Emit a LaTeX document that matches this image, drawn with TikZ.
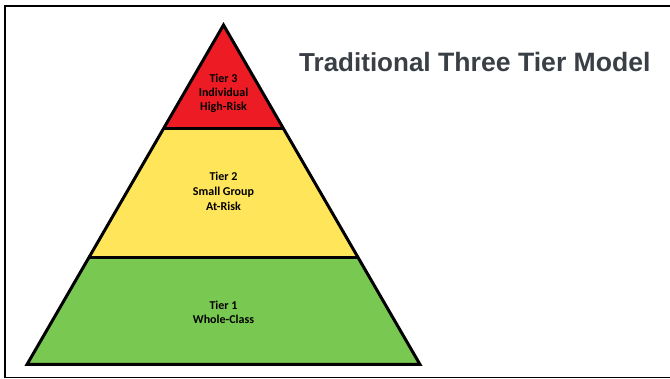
\documentclass[tikz,border=0pt]{standalone}
\usepackage{fontspec}
\setmainfont{Carlito}
\newfontfamily\titlefont{Liberation Sans}
\usetikzlibrary{calc}
\definecolor{tierred}{HTML}{ED1C24}
\definecolor{tieryellow}{HTML}{FFE55A}
\definecolor{tiergreen}{HTML}{79C852}
\definecolor{titlegray}{HTML}{3A3F45}
\tikzset{
  tieredge/.style={draw=black, line width=3pt, line join=miter},
  tierlabel/.style={font=\fontsize{12}{14.3}\selectfont\bfseries, align=center, text=black, inner sep=0pt},
  frameline/.style={draw=black, line width=1.8pt}
}
\begin{document}
\begin{tikzpicture}[x=1pt, y=-1pt]
\useasboundingbox (0,0) rectangle (670,379);
% frame
\draw[frameline] (670,5.7) -- (5.2,5.7) -- (5.2,377.6) -- (670,377.6);
% pyramid geometry
\coordinate (apex) at (223.5,25);
\coordinate (bl) at (27,364.5);
\coordinate (br) at (420,364.5);
\coordinate (l1) at ($(apex)!0.3034!(bl)$);
\coordinate (r1) at ($(apex)!0.3034!(br)$);
\coordinate (l2) at ($(apex)!0.6834!(bl)$);
\coordinate (r2) at ($(apex)!0.6834!(br)$);
\fill[tierred] (apex) -- (l1) -- (r1) -- cycle;
\fill[tieryellow] (l1) -- (l2) -- (r2) -- (r1) -- cycle;
\fill[tiergreen] (l2) -- (bl) -- (br) -- (r2) -- cycle;
\draw[tieredge] (apex) -- (bl) -- (br) -- cycle;
\draw[tieredge] (l1) -- (r1);
\draw[tieredge] (l2) -- (r2);
% labels (base anchor = baseline of the last line)
\node[tierlabel, anchor=base] (t3) at (223.5,111) {Tier 3\\Individual\\High-Risk};
\node[tierlabel, anchor=base, font=\fontsize{12}{15}\selectfont\bfseries] (t2) at (223.5,211) {Tier 2\\Small Group\\At-Risk};
\node[tierlabel, anchor=base] (t1) at (223.5,323.7) {Tier 1\\Whole-Class};
% title
\node[anchor=base west, inner sep=0pt, text=titlegray] (title) at (299,71.5)
  {\titlefont\bfseries{\fontsize{26}{30}\selectfont Traditiona}\fontsize{26.6}{30}\selectfont l Three Tier Model};
\end{tikzpicture}
\end{document}
